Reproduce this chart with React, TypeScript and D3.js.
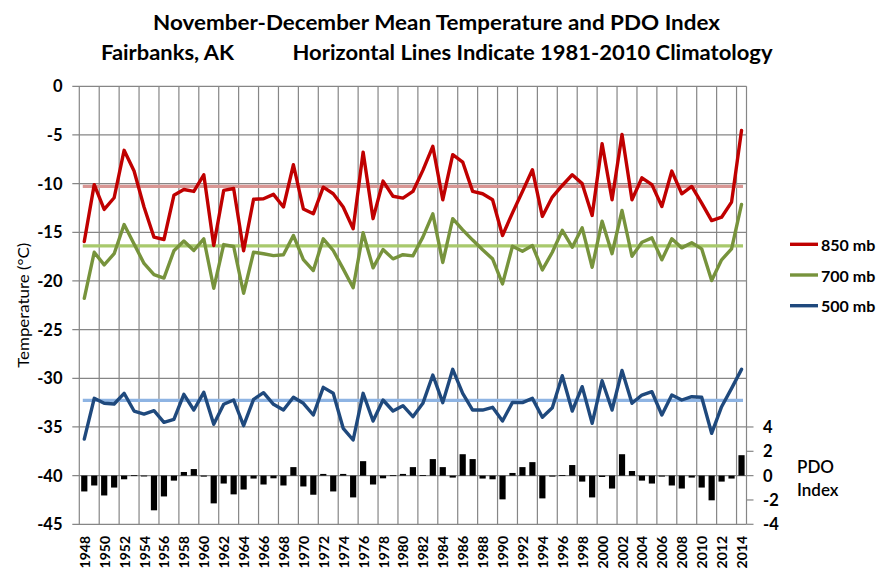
import React from "react";
import * as d3 from "d3";

const years: number[] = [
  1948, 1949, 1950, 1951, 1952, 1953, 1954, 1955, 1956, 1957,
  1958, 1959, 1960, 1961, 1962, 1963, 1964, 1965, 1966, 1967,
  1968, 1969, 1970, 1971, 1972, 1973, 1974, 1975, 1976, 1977,
  1978, 1979, 1980, 1981, 1982, 1983, 1984, 1985, 1986, 1987,
  1988, 1989, 1990, 1991, 1992, 1993, 1994, 1995, 1996, 1997,
  1998, 1999, 2000, 2001, 2002, 2003, 2004, 2005, 2006, 2007,
  2008, 2009, 2010, 2011, 2012, 2013, 2014,
];

const t850: number[] = [
  -15.95, -10.1, -12.65, -11.45, -6.58, -8.71, -12.4, -15.5, -15.74, -11.2,
  -10.6, -10.8, -9.09, -16.36, -10.7, -10.5, -16.9, -11.6, -11.56, -11.1,
  -12.4, -8.06, -12.6, -13.1, -10.36, -11.04, -12.4, -14.64, -6.76, -13.6,
  -9.74, -11.3, -11.49, -10.8, -8.64, -6.17, -11.66, -7.03, -7.78, -10.8,
  -11.04, -11.66, -15.33, -13.0, -10.8, -8.57, -13.37, -11.38, -10.19, -9.09,
  -10.0, -13.27, -5.9, -11.66, -4.94, -11.66, -9.4, -10.1, -12.35, -8.71,
  -11.04, -10.29, -12.0, -13.8, -13.45, -11.9, -4.53,
];

const t700: number[] = [
  -21.78, -17.05, -18.35, -17.2, -14.2, -16.2, -18.2, -19.34, -19.7, -16.9,
  -15.9, -16.87, -15.67, -20.75, -16.26, -16.46, -21.26, -17.05, -17.2, -17.4,
  -17.3, -15.33, -17.8, -18.93, -15.67, -16.87, -18.76, -20.7, -15.05, -18.65,
  -16.77, -17.73, -17.3, -17.42, -15.5, -13.1, -18.1, -13.6, -14.75, -15.8,
  -16.8, -17.73, -20.3, -16.43, -16.95, -16.36, -18.86, -17.05, -14.8, -16.53,
  -14.54, -18.59, -13.86, -17.2, -12.76, -17.46, -16.02, -15.57, -17.83, -15.67,
  -16.6, -16.08, -16.7, -19.96, -17.83, -16.7, -12.14,
];

const t500: number[] = [
  -36.24, -32.06, -32.57, -32.64, -31.54, -33.36, -33.67, -33.33, -34.52, -34.21,
  -31.65, -33.26, -31.44, -34.73, -32.67, -32.23, -34.87, -32.16, -31.48, -32.67,
  -33.26, -31.95, -32.57, -33.77, -30.93, -31.54, -35.14, -36.34, -31.54, -34.39,
  -32.23, -33.36, -32.81, -33.94, -32.57, -29.66, -32.5, -29.08, -31.54, -33.26,
  -33.26, -32.98, -34.39, -32.47, -32.5, -32.06, -34.0, -33.02, -29.73, -33.36,
  -30.86, -34.62, -30.25, -33.26, -29.2, -32.57, -31.72, -31.38, -33.77, -31.72,
  -32.23, -31.89, -31.95, -35.65, -32.92, -31.03, -29.08,
];

const pdo: number[] = [
  -1.3, -0.81, -1.63, -0.98, -0.3, 0.03, -0.02, -2.85, -1.71, -0.41,
  0.3, 0.54, -0.08, -2.28, -0.65, -1.54, -1.14, -0.24, -0.73, -0.22,
  -0.81, 0.7, -0.89, -1.57, 0.14, -1.3, 0.14, -1.79, 1.19, -0.73,
  -0.22, 0.03, 0.14, 0.7, 0.05, 1.36, 0.7, -0.16, 1.76, 1.36,
  -0.24, -0.3, -1.95, 0.22, 0.7, 1.11, -1.87, -0.08, 0.05, 0.87,
  -0.49, -1.79, -0.11, -1.06, 1.76, 0.38, -0.41, -0.65, -0.08, -0.81,
  -1.06, -0.16, -0.98, -2.03, -0.49, -0.24, 1.68,
];

// 1981-2010 climatology
const climo850 = -10.29;
const climo700 = -16.4;
const climo500 = -32.26;

const leftTicks: number[] = [0, -5, -10, -15, -20, -25, -30, -35, -40, -45];
const pdoTicks: number[] = [4, 2, 0, -2, -4];
const legendLabels: string[] = ["850 mb", "700 mb", "500 mb"];

const titleLine1 = "November-December Mean Temperature and PDO Index";
const titleLine2a = "Fairbanks, AK";
const titleLine2b = "Horizontal Lines Indicate 1981-2010 Climatology";

const FONT = "Lato, 'Open Sans', 'Noto Sans', sans-serif";
const GRID = "#868686";

export default function App() {
  const W = 890;
  const H = 586;
  const x0 = 79.3;
  const x1 = 746.5;
  const yTop = 86.3;
  const yBot = 524.3;

  const x = d3.scaleBand<number>().domain(years).range([x0, x1]).padding(0);
  const bw = x.bandwidth();
  const cx = (yr: number) => (x(yr) as number) + bw / 2;
  const y = d3.scaleLinear().domain([-45, 0]).range([yBot, yTop]);
  const yp = d3.scaleLinear().domain([-4, 4]).range([y(-45), y(-35)]);

  const mkLine = (vals: number[]) =>
    d3
      .line<number>()
      .x((_, i) => cx(years[i]))
      .y((v) => y(v))(vals) as string;

  const series = [
    { vals: t850, color: "#c00000", climo: climo850, climoColor: "#d99694" },
    { vals: t700, color: "#77933c", climo: climo700, climoColor: "#a8c96c" },
    { vals: t500, color: "#1f497d", climo: climo500, climoColor: "#8eb4e3" },
  ];

  const vGrid: number[] = [];
  years.forEach((yr, i) => {
    if (i % 2 === 0) vGrid.push(x(yr) as number);
  });
  vGrid.push(x1);

  const first = cx(years[0]);
  const last = cx(years[years.length - 1]);

  return (
    <svg
      width={W}
      height={H}
      style={{ position: "absolute", left: 0, top: 0, background: "#fff" }}
      fontFamily={FONT}
    >
      <rect x={0} y={0} width={W} height={H} fill="#fff" />
      {/* title */}
      <text x={153} y={30} fontSize={21} fontWeight="bold" textLength={567} lengthAdjust="spacingAndGlyphs">
        {titleLine1}
      </text>
      <text x={101} y={60} fontSize={21} fontWeight="bold" textLength={133} lengthAdjust="spacingAndGlyphs">
        {titleLine2a}
      </text>
      <text x={292.5} y={60} fontSize={21} fontWeight="bold" textLength={480} lengthAdjust="spacingAndGlyphs">
        {titleLine2b}
      </text>

      {/* horizontal gridlines + left ticks */}
      {leftTicks.map((t) => (
        <g key={"h" + t}>
          <line x1={x0 - 7} x2={x1} y1={y(t)} y2={y(t)} stroke={GRID} strokeWidth={1.2} />
          <text
            x={62.5}
            y={y(t)}
            textAnchor="end"
            dominantBaseline="central"
            fontSize={16.5}
            fontWeight="bold"
          >
            {t}
          </text>
        </g>
      ))}
      {/* vertical gridlines */}
      {vGrid.map((vx, i) => (
        <line key={"v" + i} x1={vx} x2={vx} y1={yTop} y2={yBot} stroke={GRID} strokeWidth={1.2} />
      ))}

      {/* right PDO axis */}
      {pdoTicks.map((p) => (
        <g key={"p" + p}>
          <line x1={x1} x2={x1 + 7} y1={yp(p)} y2={yp(p)} stroke={GRID} strokeWidth={1.2} />
          <text x={x1 + 16.5} y={yp(p)} dominantBaseline="central" fontSize={16.5} fontWeight="bold">
            {p}
          </text>
        </g>
      ))}

      {/* PDO bars */}
      {pdo.map((p, i) => {
        const bx = cx(years[i]) - 3.1;
        const ya = yp(Math.max(p, 0));
        const yb = yp(Math.min(p, 0));
        return (
          <rect key={"b" + i} x={bx} y={ya} width={6.2} height={Math.max(yb - ya, 0.8)} fill="#000" />
        );
      })}

      {/* climatology lines */}
      {series.map((s, i) => (
        <line
          key={"c" + i}
          x1={first - 1.5}
          x2={last + 1.5}
          y1={y(s.climo)}
          y2={y(s.climo)}
          stroke={s.climoColor}
          strokeWidth={3.2}
        />
      ))}

      {/* data lines */}
      {series.map((s, i) => (
        <path
          key={"s" + i}
          d={mkLine(s.vals)}
          fill="none"
          stroke={s.color}
          strokeWidth={3.4}
          strokeLinejoin="round"
          strokeLinecap="round"
        />
      ))}

      {/* x labels */}
      {years.map((yr, i) =>
        i % 2 === 0 ? (
          <text
            key={"x" + yr}
            transform={`translate(${cx(yr)},${536}) rotate(-90)`}
            textAnchor="end"
            dominantBaseline="central"
            fontSize={14}
            fontWeight="bold"
          >
            {yr}
          </text>
        ) : null
      )}

      {/* y title */}
      <text
        transform={`translate(22,${(yTop + yBot) / 2}) rotate(-90)`}
        textAnchor="middle"
        dominantBaseline="central"
        fontSize={16}
        textLength={125}
        lengthAdjust="spacingAndGlyphs"
      >
        Temperature (°C)
      </text>

      {/* legend */}
      {series.map((s, i) => (
        <g key={"l" + i}>
          <line x1={790} x2={818} y1={244.3 + i * 30.7} y2={244.3 + i * 30.7} stroke={s.color} strokeWidth={3.4} />
          <text x={821} y={244.3 + i * 30.7} dominantBaseline="central" fontSize={16} fontWeight="bold">
            {legendLabels[i]}
          </text>
        </g>
      ))}

      {/* PDO label */}
      <text x={797} y={466} dominantBaseline="central" fontSize={17} fontWeight={600}>
        PDO
      </text>
      <text x={797} y={489} dominantBaseline="central" fontSize={17} fontWeight={600}>
        Index
      </text>
    </svg>
  );
}
